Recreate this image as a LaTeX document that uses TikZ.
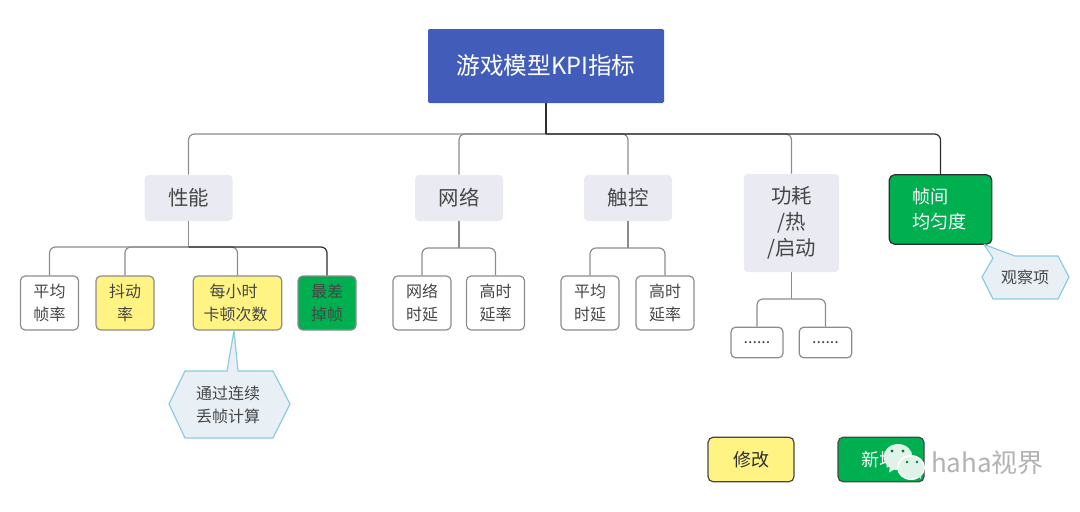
\documentclass[tikz,border=0pt]{standalone}
\usepackage{fontspec}
\setmainfont{Noto Sans CJK SC}
\usepackage{xcolor}
\usetikzlibrary{shapes.geometric, positioning, calc}
\definecolor{kpiblue}{RGB}{65, 93, 185}
\definecolor{kpipale}{RGB}{234, 235, 242}
\definecolor{kpiyellow}{RGB}{255, 243, 131}
\definecolor{kpigreen}{RGB}{0, 175, 80}
\definecolor{kpitext}{RGB}{70, 70, 70}
\definecolor{kpiline}{RGB}{140, 140, 140}
\definecolor{kpidark}{RGB}{45, 45, 45}
\definecolor{noteblue}{RGB}{232, 240, 246}
\definecolor{noteline}{RGB}{140, 203, 226}
\definecolor{chatwhite}{RGB}{224, 243, 233}

\begin{document}
\begin{tikzpicture}[
  x=0.75pt, y=-0.75pt,
  rootbox/.style={fill=kpiblue, rounded corners=1pt, align=center, text=white, minimum width=177pt, minimum height=55.5pt, font=\fontsize{17.7}{22}\selectfont},
  areabox/.style={fill=kpipale, rounded corners=3pt, align=center, text=kpitext, minimum width=66pt, minimum height=34.5pt, font=\fontsize{15.3}{19.5}\selectfont},
  leafbox/.style={draw=kpiline, line width=0.9pt, fill=white, rounded corners=3.5pt, align=center, text=kpitext, minimum width=43.5pt, minimum height=40.5pt, inner sep=0pt, font=\fontsize{12}{17.25}\selectfont},
  legendbox/.style={draw=kpitext, line width=0.9pt, rounded corners=4pt, align=center, minimum width=64.5pt, minimum height=33.5pt, font=\fontsize{13.5}{17}\selectfont},
  notebox/.style={draw=noteline, line width=0.9pt, fill=noteblue, line join=round},
  notetext/.style={align=center, text=kpitext, font=\fontsize{12}{17.25}\selectfont},
  link/.style={draw=kpiline, line width=0.9pt, rounded corners=4.5pt},
  darklink/.style={draw=kpidark, line width=0.9pt, rounded corners=4.5pt}
]
\useasboundingbox (0,0) rectangle (1080,511);

% Root
\node[rootbox] (root) at (546, 66) {游戏模型KPI指标};

% Areas
\node[areabox] (perf) at (188.5, 198) {性能};
\node[areabox] (net) at (459, 198) {网络};
\node[areabox] (touch) at (628, 198) {触控};
\node[areabox, minimum width=71.5pt, minimum height=73.5pt] (power) at (791.5, 223) {功耗\\/热\\/启动};
\node[leafbox, fill=kpigreen, draw=kpidark, text=white, minimum width=77pt, minimum height=52pt, font=\fontsize{13.6}{18.75}\selectfont, rounded corners=4pt] (frame) at (940.5, 209.5) {\makebox[42pt][l]{帧间}\\\makebox[42pt][l]{均匀度}};

% Leaves of each area
\node[leafbox] (avgfps) at (49.5, 303) {平均\\帧率};
\node[leafbox, fill=kpiyellow] (jitter) at (125, 303) {抖动\\率};
\node[leafbox, fill=kpiyellow, minimum width=66.5pt] (stutter) at (237.5, 303) {每小时\hspace*{6pt}\\卡顿次数\hspace*{3pt}};
\node[leafbox, fill=kpigreen] (worst) at (327, 303) {最差\\掉帧};

\node[leafbox] (netdelay) at (422, 303) {网络\\时延};
\node[leafbox] (netrate) at (495.5, 303) {高时\\延率};
\node[leafbox] (touchdelay) at (590, 303) {平均\\时延};
\node[leafbox] (touchrate) at (665, 303) {高时\\延率};

\node[leafbox, minimum width=39pt, minimum height=23pt] (powera) at (757, 342.5) {......};
\node[leafbox, minimum width=39.5pt, minimum height=23pt] (powerb) at (825.5, 342.5) {......};

% Bus points
\coordinate (rootbus) at (root.south |- 0, 134);
\coordinate (perfbus) at (perf.south |- 0, 247);
\coordinate (netbus) at (net.south |- 0, 248);
\coordinate (touchbus) at (touch.south |- 0, 248);
\coordinate (powerbus) at (power.south |- 0, 299);

% Root connectors
\draw[link] (rootbus) -| (perf.north);
\draw[link] (rootbus) -| (net.north);
\draw[link] (rootbus) -| (touch.north);
\draw[link] (rootbus) -| (power.north);
\draw[darklink] (rootbus) -| (frame.north);
\draw[darklink] (root.south) -- (rootbus);

% Area connectors
\draw[link] (perf.south) -- (perfbus);
\draw[link] (perfbus) -| (avgfps.north);
\draw[link] (perfbus) -| (jitter.north);
\draw[link] (perfbus) -| (stutter.north);
\draw[darklink] (perfbus) -| (worst.north);

\draw[link] (net.south) -- (netbus);
\draw[link] (netbus) -| (netdelay.north);
\draw[link] (netbus) -| (netrate.north);

\draw[link] (touch.south) -- (touchbus);
\draw[link] (touchbus) -| (touchdelay.north);
\draw[link] (touchbus) -| (touchrate.north);

\draw[link] (power.south) -- (powerbus);
\draw[link] (powerbus) -| (powera.north);
\draw[link] (powerbus) -| (powerb.north);

% Callouts
\draw[notebox] (169, 404) -- (185, 371) -- (227, 371) -- (234, 330.5) -- (238, 371) -- (273, 371) -- (290, 404) -- (273, 438) -- (185, 438) -- cycle;
\node[notetext] (stutternote) at (228, 405) {通过连续\\丢帧计算};

\draw[notebox] (982, 277) -- (993, 258) -- (984, 244.5) -- (1015, 256) -- (1058, 256) -- (1069, 277) -- (1058, 299) -- (993, 299) -- cycle;
\node[notetext] (framenote) at (1025, 277) {观察项};

% Legend
\node[legendbox, fill=kpiyellow, text=kpidark] (legendmod) at (751, 459.5) {修改};
\node[legendbox, fill=kpigreen, text=white] (legendnew) at (881, 459.5) {新增\hspace*{2pt}};

% Watermark
\fill[chatwhite] (898, 457) ellipse (14.5 and 13);
\fill[chatwhite] (890, 466) -- (889, 472.5) -- (897, 468) -- cycle;
\fill[kpigreen!70!black] (892, 451) circle (1.6) (903, 451) circle (1.6);
\fill[white] (911, 467.5) ellipse (14 and 12.5);
\fill[chatwhite] (911, 467.5) ellipse (12.5 and 11);
\fill[chatwhite] (916, 474) -- (921, 479) -- (920, 471) -- cycle;
\fill[kpigreen!70!black] (907, 462) circle (1.4) (917, 462) circle (1.4);
\node[text=gray!60, inner sep=0pt, font=\fontsize{19.5}{22}\selectfont] (mark) at (987.5, 463) {haha视界};

\end{tikzpicture}
\end{document}
